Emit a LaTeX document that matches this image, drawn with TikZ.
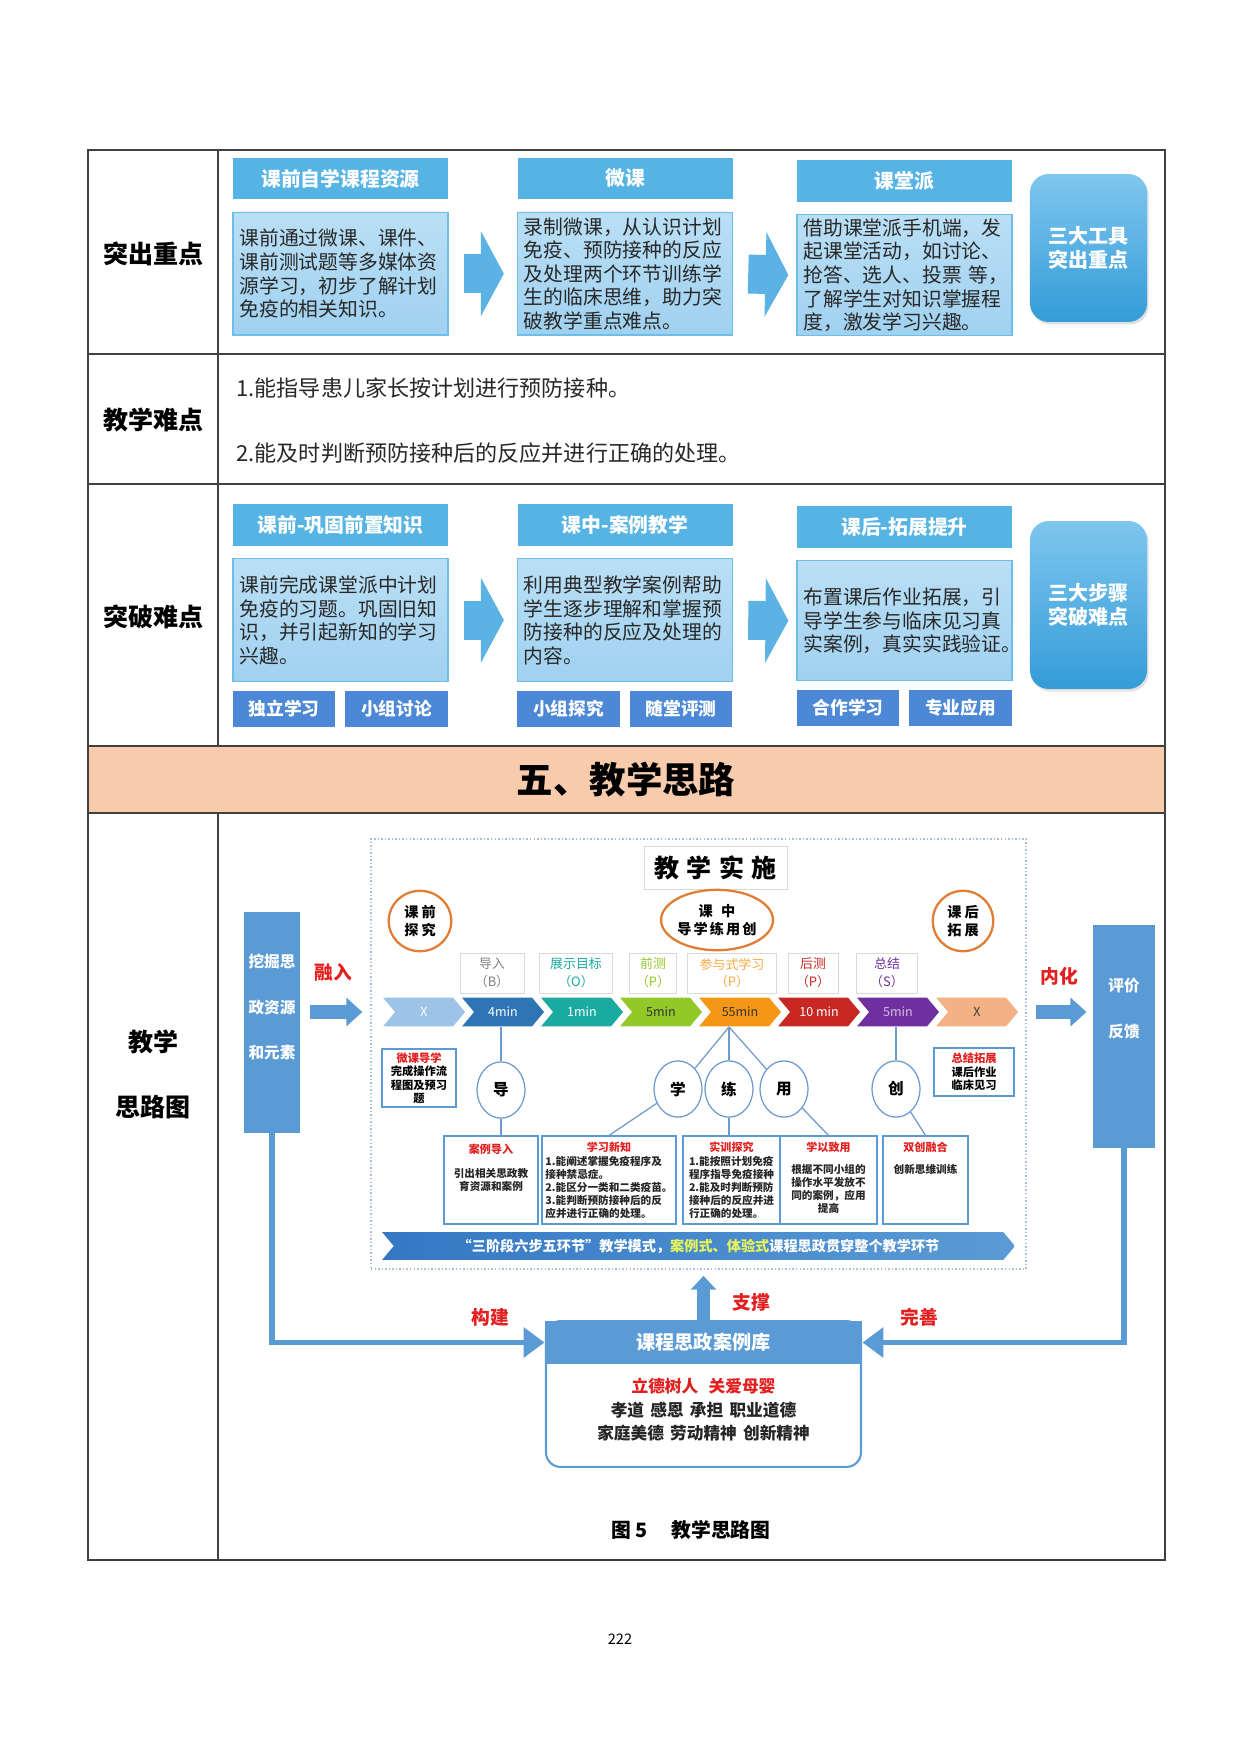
\documentclass[tikz,border=0pt]{standalone}
\usepackage{fontspec}
\setmainfont{Noto Sans CJK SC}
\usetikzlibrary{positioning, arrows.meta, shapes.geometric, shapes.symbols, shadows, calc}

\definecolor{skyhead}{RGB}{86,180,228}
\definecolor{skytop}{RGB}{186,223,245}
\definecolor{skybody}{RGB}{160,209,240}
\definecolor{skyedge}{RGB}{110,190,232}
\definecolor{arrblue}{RGB}{92,178,228}
\definecolor{sumtop}{RGB}{126,198,238}
\definecolor{sumbot}{RGB}{52,156,216}
\definecolor{tagblue}{RGB}{76,136,214}
\definecolor{flowblue}{RGB}{91,155,213}
\definecolor{bandleft}{RGB}{52,120,196}
\definecolor{peach}{RGB}{248,203,173}
\definecolor{ringorange}{RGB}{226,125,52}
\definecolor{tipred}{RGB}{226,32,32}
\definecolor{hlyellow}{RGB}{232,245,90}
\definecolor{inktext}{RGB}{40,40,40}
\definecolor{thinline}{RGB}{110,155,205}
\definecolor{framedot}{RGB}{170,190,215}
\definecolor{cX}{RGB}{157,195,230}
\definecolor{cB}{RGB}{46,117,182}
\definecolor{cO}{RGB}{26,170,160}
\definecolor{cP}{RGB}{146,200,40}
\definecolor{cPP}{RGB}{245,150,20}
\definecolor{cPPP}{RGB}{200,40,35}
\definecolor{cS}{RGB}{112,48,160}
\definecolor{cXX}{RGB}{244,177,131}

\begin{document}
\begin{tikzpicture}[
        x=0.48pt, y=-0.48pt,
        rule/.style={draw=black!75, line width=0.7pt},
        rowlabel/.style={font=\fontsize{12}{15}\selectfont\bfseries, align=center},
        headbox/.style={rectangle, fill=skyhead, text=white, minimum width=103.2pt, minimum height=19.7pt, inner sep=0pt, font=\fontsize{9.5}{11}\selectfont\bfseries},
        bodybox/.style={rectangle, draw=skyedge, line width=0.7pt, top color=skytop, bottom color=skybody, minimum width=103.2pt, minimum height=59pt, text width=97pt, inner xsep=3.1pt, inner ysep=1pt, align=left, font=\fontsize{9.5}{11.3}\selectfont, text=inktext},
        tagbox/.style={rectangle, fill=tagblue, text=white, minimum width=49.3pt, minimum height=17.3pt, inner sep=0pt, font=\fontsize{8.5}{10}\selectfont\bfseries},
        sumbox/.style={rectangle, rounded corners=9pt, top color=sumtop, bottom color=sumbot, minimum width=56.2pt, text=white, align=center, font=\fontsize{9.6}{11.8}\selectfont\bfseries, drop shadow={opacity=0.25, shadow xshift=0.8pt, shadow yshift=-1.2pt}},
        bigarr/.style={line width=18.7pt, draw=arrblue, -{Triangle[length=11pt, width=40.3pt]}, shorten <=7.2pt, shorten >=6.2pt},
        chev/.style={signal, signal from=west, signal to=east, signal pointer angle=100, minimum width=39.4pt, minimum height=13.9pt, inner sep=0pt, font=\fontsize{6}{7}\selectfont},
        steplabel/.style={rectangle, draw=gray!30, fill=white, minimum height=19.2pt, inner sep=0pt, align=center, font=\fontsize{6.2}{8.5}\selectfont},
        phase/.style={ellipse, draw=ringorange, line width=1.1pt, inner sep=0pt, align=center, font=\fontsize{6.8}{8.5}\selectfont\bfseries},
        ring/.style={ellipse, draw=thinline, fill=white, line width=0.6pt, minimum width=23pt, minimum height=27pt, inner sep=0pt, font=\fontsize{7.5}{9}\selectfont\bfseries},
        twig/.style={draw=thinline, line width=0.6pt},
        taskbox/.style={rectangle, draw=flowblue, line width=0.6pt, fill=white, minimum height=42.2pt, inner sep=0pt},
        tasktitle/.style={text=tipred, inner sep=0pt, font=\fontsize{5.3}{6.3}\selectfont\bfseries},
        tasktext/.style={text=black!85, inner sep=0pt, align=center, font=\fontsize{5.1}{6.3}\selectfont\bfseries},
        notebox/.style={rectangle, draw=flowblue, line width=0.6pt, fill=white, align=center, inner sep=0pt, font=\fontsize{5.4}{6.4}\selectfont\bfseries},
        banner/.style={signal, signal from=west, signal to=east, signal pointer angle=100, left color=bandleft, right color=flowblue, text=white, minimum width=303.8pt, minimum height=13.4pt, inner sep=0pt, font=\fontsize{6.8}{8}\selectfont\bfseries},
        sidebox/.style={rectangle, fill=flowblue, inner sep=0pt},
        sidetext/.style={text=white, align=center, font=\fontsize{7.5}{22}\selectfont\bfseries},
        flowarr/.style={line width=6.7pt, draw=flowblue, -{Triangle[length=7.7pt, width=13.4pt]}},
        loopline/.style={line width=2.6pt, draw=flowblue, -{Triangle[length=10pt, width=14pt]}},
        redword/.style={text=tipred, font=\fontsize{9}{11}\selectfont\bfseries},
    ]
        \useasboundingbox (0,0) rectangle (1240,1753);
        \fill[white] (0,0) rectangle (1240,1753);

        % Table grid
        \fill[peach] (88,746) rectangle (1165,813);
        \draw[rule] (88,150) rectangle (1165,1560);
        \draw[rule] (88,354) -- (1165,354);
        \draw[rule] (88,484) -- (1165,484);
        \draw[rule] (88,746) -- (1165,746);
        \draw[rule] (88,813) -- (1165,813);
        \draw[rule] (218,150) -- (218,746);
        \draw[rule] (218,813) -- (218,1560);

        % Row labels
        \node[rowlabel] (lab1) at (153,254) {突出重点};
        \node[rowlabel] (lab2) at (153,420) {教学难点};
        \node[rowlabel] (lab3) at (153,617) {突破难点};
        \node[rowlabel] (lab4a) at (153,1042) {教学};
        \node[rowlabel] (lab4b) at (153,1107) {思路图};

        % Row 1 - three tools
        \node[headbox] (hpre1) at (340.5,178.5) {课前自学课程资源};
        \node[bodybox, below=5.8pt of hpre1] (pre1) {课前通过微课、课件、\\课前测试题等多媒体资\\源学习，初步了解计划\\免疫的相关知识。};
        \node[headbox] (hmid1) at (625,178.5) {微课};
        \node[bodybox, below=5.8pt of hmid1] (mid1) {录制微课，从认识计划\\免疫、预防接种的反应\\及处理两个环节训练学\\生的临床思维，助力突\\破教学重点难点。};
        \node[headbox] (hpost1) at (904.5,181) {课堂派};
        \node[bodybox, below=5.8pt of hpost1, minimum height=58pt] (post1) {借助课堂派手机端，发\\起课堂活动，如讨论、\\\mbox{抢答、选人、投票 等，}\\了解学生对知识掌握程\\度，激发学习兴趣。};
        \node[sumbox, minimum height=71pt] (tools) at (1088.5,248) {三大工具\\突出重点};
        \draw[bigarr] (pre1.east) -- (mid1.west);
        \draw[bigarr, shorten >=3.8pt] (mid1.east) -- (post1.west);

        % Row 2 - difficulties
        \node[anchor=west, font=\fontsize{10.6}{12}\selectfont, text=inktext] (diff1) at (229,388) {1.能指导患儿家长按计划进行预防接种。};
        \node[anchor=west, font=\fontsize{10.6}{12}\selectfont, text=inktext] (diff2) at (229,453) {2.能及时判断预防接种后的反应并进行正确的处理。};

        % Row 3 - three steps
        \node[headbox] (hpre2) at (340.5,525) {课前-巩固前置知识};
        \node[bodybox, below=5.8pt of hpre2] (pre2) {课前完成课堂派中计划\\免疫的习题。巩固旧知\\识，并引起新知的学习\\兴趣。};
        \node[tagbox, below right=3.8pt and 0pt of pre2.south west] (tagA) {独立学习};
        \node[tagbox, right=4.3pt of tagA] (tagB) {小组讨论};
        \node[headbox] (hmid2) at (625,525) {课中-案例教学};
        \node[bodybox, below=5.8pt of hmid2] (mid2) {利用典型教学案例帮助\\学生逐步理解和掌握预\\防接种的反应及处理的\\内容。};
        \node[tagbox, below right=3.8pt and 0pt of mid2.south west] (tagC) {小组探究};
        \node[tagbox, right=4.3pt of tagC] (tagD) {随堂评测};
        \node[headbox] (hpost2) at (904.5,527) {课后-拓展提升};
        \node[bodybox, below=5.8pt of hpost2, minimum height=57.6pt] (post2) {布置课后作业拓展，引\\导学生参与临床见习真\\\mbox{实案例，真实实践验证。}};
        \node[tagbox, below right=3.8pt and 0pt of post2.south west] (tagE) {合作学习};
        \node[tagbox, right=4.3pt of tagE] (tagF) {专业应用};
        \node[sumbox, minimum height=80.6pt] (steps) at (1088.5,605) {三大步骤\\突破难点};
        \draw[bigarr] (pre2.east) -- (mid2.west);
        \draw[bigarr, shorten >=3.8pt] (mid2.east) -- (post2.west);

        % Section title
        \node[font=\fontsize{17.5}{20}\selectfont\bfseries] (band) at (626,780) {五、教学思路};

        % Teaching frame
        \node[draw=framedot, densely dotted, line width=0.7pt, minimum width=314.4pt, minimum height=206.4pt, inner sep=0pt] (frame) at (698.5,1054) {};
        \node[draw=gray!30, minimum width=68.6pt, minimum height=20.6pt, inner sep=0pt, font=\fontsize{12}{14}\selectfont\bfseries] (title) at (715.5,867.5) {教\hspace{3.5pt}学\hspace{3.5pt}实\hspace{3.5pt}施};
        \node[phase, minimum width=30pt, minimum height=29pt] (before) at (420,921) {课\hspace{1.5pt}前\\探\hspace{1.5pt}究};
        \node[phase, minimum width=53pt, minimum height=29pt] (during) at (717,920) {课\hspace{4pt}中\\导\hspace{1pt}学\hspace{1pt}练\hspace{1pt}用\hspace{1pt}创};
        \node[phase, minimum width=29pt, minimum height=29pt] (after) at (963,921) {课\hspace{1.5pt}后\\拓\hspace{1.5pt}展};

        % Step labels
        \node[steplabel, minimum width=30.7pt, text=gray] (sB) at (492,973) {导入\\（B）};
        \node[steplabel, minimum width=35pt, text=cO] (sO) at (576,973) {展示目标\\（O）};
        \node[steplabel, minimum width=22.6pt, text=cP] (sP1) at (653,973) {前测\\（P）};
        \node[steplabel, minimum width=42.7pt, text=cPP!80] (sP2) at (732,973) {参与式学习\\（P）};
        \node[steplabel, minimum width=24pt, text=cPPP] (sP3) at (813,973) {后测\\（P）};
        \node[steplabel, minimum width=29.3pt, text=cS] (sS) at (887,973) {总结\\（S）};

        % Time chevrons
        \node[chev, fill=cX, text=white] (c0) at (424,1012) {X};
        \node[chev, fill=cB, text=white] (c1) at (503,1012) {4min};
        \node[chev, fill=cO, text=white] (c2) at (582,1012) {1min};
        \node[chev, fill=cP, text=black!80] (c3) at (661,1012) {5min};
        \node[chev, fill=cPP, text=black!80] (c4) at (740,1012) {55min};
        \node[chev, fill=cPPP, text=white] (c5) at (819,1012) {10 min};
        \node[chev, fill=cS, text=white!70!cS] (c6) at (898,1012) {5min};
        \node[chev, fill=cXX, text=black!75] (c7) at (977,1012) {X};

        % Five links
        \node[ring] (dao) at (501,1090) {导};
        \node[ring] (xue) at (678,1089) {学};
        \node[ring] (lian) at (729,1089) {练};
        \node[ring] (yong) at (784,1089) {用};
        \node[ring] (chuang) at (896,1089) {创};

        % Side notes
        \node[notebox, minimum width=35.5pt, minimum height=27.8pt] (weike) at (419,1078) {\textcolor{tipred}{微课导学}\\完成操作流\\程图及预习\\题};
        \node[notebox, minimum width=38.4pt, minimum height=23pt] (zongjie) at (974,1072) {\textcolor{tipred}{总结拓展}\\课后作业\\临床见习};

        % Task boxes
        \node[taskbox, minimum width=45.1pt] (anli) at (491,1180) {};
        \node[tasktitle, below=4pt of anli.north] (anlit) {案例导入};
        \node[tasktext, below=6pt of anlit] {引出相关思政教\\育资源和案例};
        \node[taskbox, minimum width=64.3pt] (xuexi) at (609,1180) {};
        \node[tasktitle, below=3pt of xuexi.north] (xuexit) {学习新知};
        \node[tasktext, align=left, below=1.2pt of xuexit] {1.能阐述掌握免疫程序及\\接种禁忌症。\\2.能区分一类和二类疫苗。\\3.能判断预防接种后的反\\应并进行正确的处理。};
        \node[taskbox, minimum width=46.6pt] (shixun) at (731.5,1180) {};
        \node[tasktitle, below=3pt of shixun.north] (shixunt) {实训探究};
        \node[tasktext, align=left, below=1.2pt of shixunt] {1.能按照计划免疫\\程序指导免疫接种\\2.能及时判断预防\\接种后的反应并进\\行正确的处理。};
        \node[taskbox, minimum width=46.6pt] (xueyi) at (828.5,1180) {};
        \node[tasktitle, below=3pt of xueyi.north] (xueyit) {学以致用};
        \node[tasktext, below=5pt of xueyit] {根据不同小组的\\操作水平发放不\\同的案例，应用\\提高};
        \node[taskbox, minimum width=40.8pt] (shuang) at (925.5,1180) {};
        \node[tasktitle, below=3pt of shuang.north] (shuangt) {双创融合};
        \node[tasktext, below=5pt of shuangt] {创新思维训练};

        % Links between rows
        \draw[twig] (dao) -- (dao |- c1.south);
        \coordinate (apex) at (lian |- c4.south);
        \draw[twig] (apex) -- (xue);
        \draw[twig] (apex) -- (lian);
        \draw[twig] (apex) -- (yong);
        \draw[twig] (chuang) -- (chuang |- c6.south);
        \draw[twig] (dao) -- (dao |- anli.north);
        \draw[twig] (xue) -- (xuexi.north);
        \draw[twig] (lian) -- (lian |- shixun.north);
        \draw[twig] (yong) -- (xueyi.north);
        \draw[twig] (chuang) -- (shuang.north);

        % Mode banner
        \node[banner] (mode) at (698.5,1246) {“三阶段六步五环节”教学模式，\textcolor{hlyellow}{案例式、体验式}课程思政贯穿整个教学环节};

        % Side columns
        \node[sidebox, minimum width=26.9pt, minimum height=106pt] (lbox) at (272,1022.5) {};
        \node[sidetext] (ltext) at (272,1007) {挖掘思\\政资源\\和元素};
        \node[sidebox, minimum width=29.8pt, minimum height=107pt] (rbox) at (1124,1036.5) {};
        \node[sidetext] (rtext) at (1124,1009) {评价\\反馈};
        \node[redword] (rongru) at (333,972) {融入};
        \node[redword] (neihua) at (1059,976) {内化};
        \draw[flowarr, shorten <=4.8pt, shorten >=3.8pt] (lbox.east |- c0) -- (frame.west |- c0);
        \draw[flowarr, shorten <=4.3pt, shorten >=2.9pt] (frame.east |- c7) -- (rbox.west |- c7);

        % Case library
        \node[rectangle, draw=flowblue, line width=1pt, rounded corners=7pt, fill=white, minimum width=151.2pt, minimum height=70pt] (libbody) at (703.5,1394) {};
        \node[rectangle, fill=flowblue, text=white, minimum width=152.2pt, minimum height=20.6pt, inner sep=0pt, font=\fontsize{9.2}{11}\selectfont\bfseries] (libhead) at (703.5,1342.5) {课程思政案例库};
        \node[align=center, font=\fontsize{8}{11.3}\selectfont\bfseries, text=black!85] (libtext) at (703.5,1410) {\textcolor{tipred}{立德树人\hspace{5pt}关爱母婴}\\孝道\hspace{3pt}感恩\hspace{3pt}承担\hspace{3pt}职业道德\\家庭美德\hspace{3pt}劳动精神\hspace{3pt}创新精神};
        \draw[loopline] (lbox.south) |- (libhead.west);
        \draw[loopline] (rbox.south) |- (libhead.east);
        \draw[flowarr, line width=6.2pt, -{Triangle[length=6.7pt, width=12pt]}, shorten >=2.9pt] (libhead.north) -- (libhead.north |- frame.south);
        \node[redword] (goujian) at (490,1317) {构建};
        \node[redword] (wanshan) at (919,1317) {完善};
        \node[redword] (zhicheng) at (751,1302) {支撑};

        % Caption and page number
        \node[font=\fontsize{9.5}{11}\selectfont\bfseries] (caption) at (691,1530) {图 5\hspace{1.2em}教学思路图};
        \node[font=\fontsize{7}{8}\selectfont] (page) at (620,1639) {222};
    \end{tikzpicture}
\end{document}
